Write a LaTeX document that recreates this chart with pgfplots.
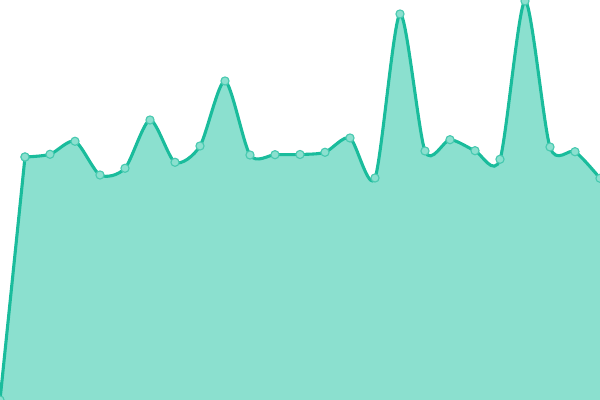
\documentclass[border=0pt]{standalone}
\usepackage{pgfplots}
\pgfplotsset{compat=1.18}
\definecolor{cline}{HTML}{1ABC9C}
\definecolor{cfill}{HTML}{8BE0CF}
\definecolor{cmark}{HTML}{48C9B0}
% first point, rising from the baseline
\pgfplotstableread{
x y
0 0
25 243
}\starttable
% the rest of the series
\pgfplotstableread{
x y
25 243
50 245.7
75 258.7
100 225
125 231.7
150 280
175 237.7
200 254
225 319
250 245
275 245.3
300 245.5
325 247.7
350 262
375 222
400 386
425 249
450 260.3
475 249.3
500 240.7
525 399
550 253
575 248.3
600 221.7
}\datatable
\begin{document}
\begin{tikzpicture}
\begin{axis}[
  scale only axis,
  width=15cm, height=10cm,
  xmin=0, xmax=600, ymin=0, ymax=400,
  hide axis,
  clip marker paths=true,
]
% area
\addplot[fill=cfill, draw=cfill, line width=0.6pt] table {\starttable} \closedcycle;
\addplot[fill=cfill, draw=cfill, line width=0.6pt, smooth, tension=0.45] table {\datatable} \closedcycle;
% line with markers
\addplot[cline, line width=2.2pt, mark=*,
  mark options={fill=cfill, draw=cmark, line width=0.8pt, scale=1.45}]
  table {\starttable};
\addplot[cline, line width=2.2pt, smooth, tension=0.45, mark=*,
  mark options={fill=cfill, draw=cmark, line width=0.8pt, scale=1.45}]
  table {\datatable};
\end{axis}
\end{tikzpicture}
\end{document}
